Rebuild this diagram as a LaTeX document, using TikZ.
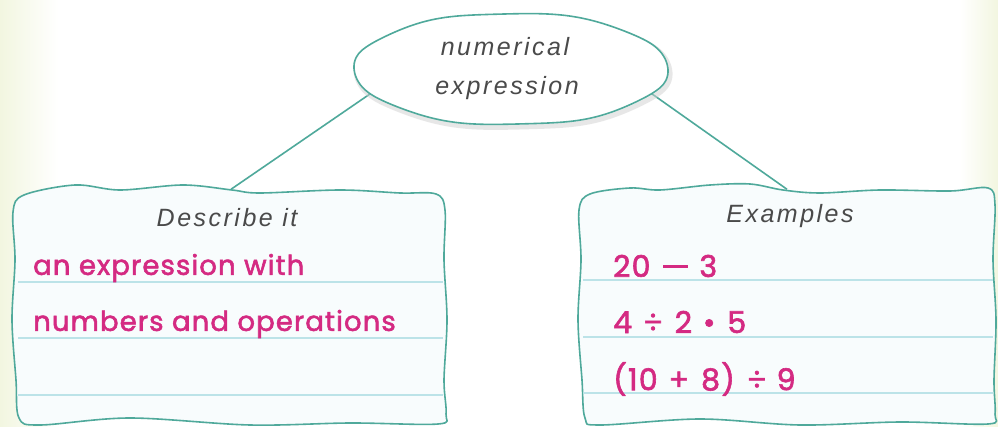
\documentclass[tikz,border=0pt]{standalone}
\usepackage{fontspec}
\setmainfont{Liberation Sans}
\newfontfamily\handfont[LetterSpace=10]{Liberation Sans}
\newfontfamily\magfont[FakeBold=2,LetterSpace=4]{Poppins}
\usetikzlibrary{shapes.geometric}
\definecolor{tealline}{HTML}{4FA99B}
\definecolor{rulecol}{HTML}{BCE3E8}
\definecolor{magc}{HTML}{D42A82}
\definecolor{handc}{HTML}{4A4A4A}
\definecolor{palec}{HTML}{F2F6E0}
\definecolor{boxfill}{HTML}{F8FCFD}
\newcommand{\mminus}{\rule[0.3em]{25pt}{0.1em}}
\begin{document}
\begin{tikzpicture}[x=1pt,y=-1pt,
  outl/.style={draw=tealline, line width=1.6pt, line join=round},
  conn/.style={draw=tealline, line width=1.6pt},
  ruleline/.style={draw=rulecol, line width=1.2pt},
  handtxt/.style={text=handc, font=\handfont\itshape\fontsize{25}{30}\selectfont, inner sep=0pt},
  magtxt/.style={text=magc, font=\magfont\fontsize{27.5}{32}\selectfont, inner sep=0pt, anchor=west},
  mathtxt/.style={text=magc, font=\magfont\fontsize{30}{34}\selectfont, inner sep=0pt, anchor=west},
  holder/.style={draw=none, inner sep=0pt}]
\useasboundingbox (0,0) rectangle (998,427);
\fill[white] (0,0) rectangle (998,427);
\shade[left color=palec, right color=white] (0,0) rectangle (58,427);
\shade[left color=white, right color=palec] (960,0) rectangle (998,427);

% layout holders
\node[holder, ellipse, minimum width=313pt, minimum height=113pt] (expr) at (511,69) {};
\node[holder, rectangle, minimum width=432pt, minimum height=237pt] (desc) at (231,308) {};
\node[holder, rectangle, minimum width=416pt, minimum height=237pt] (ex) at (787,308) {};

% connectors
\draw[conn] (expr.190) -- (desc.north);
\draw[conn] (expr.350) -- (ex.north);

% ellipse shadow + outline
\draw[black!18, line width=5pt, opacity=0.5] plot[domain=0:355, samples=72, smooth cycle]
  ({513+157*cos(\x)+0.8*sin(5*\x)}, {72+56*sin(\x)+1.0*sin(7*\x+30)});
\draw[outl, fill=white] plot[domain=0:355, samples=72, smooth cycle]
  ({511+157*cos(\x)+0.8*sin(5*\x)}, {69+56*sin(\x)+1.0*sin(7*\x+30)});

% left box
\draw[outl, fill=boxfill] plot[smooth cycle, tension=0.55] coordinates {
  (24,195) (75,185) (120,190) (183,185) (232,190) (260,193) (340,190) (400,193) (436,194)
  (445,210) (444,260) (447,320) (444,380) (446,414)
  (438,424) (350,423) (250,425) (130,418) (40,425)
  (19,418) (16,380) (12,320) (15,260) (13,212)};
% right box
\draw[outl, fill=boxfill] plot[smooth cycle, tension=0.55] coordinates {
  (590,194) (630,188) (660,190) (710,185) (750,184) (783,190) (820,193) (880,190) (950,191) (988,188)
  (995,205) (993,260) (996,320) (994,380) (995,414)
  (988,424) (900,422) (800,425) (700,419) (600,425)
  (585,418) (582,380) (578,320) (581,260) (579,210)};

% rules
\draw[ruleline] (18,282) -- (443,282);
\draw[ruleline] (18,338) -- (443,338);
\draw[ruleline] (18,395) -- (443,395);
\draw[ruleline] (583,280) -- (993,280);
\draw[ruleline] (583,337) -- (993,337);
\draw[ruleline] (583,393) -- (993,393);

% texts
\node[handtxt] (t1) at (505,47) {numerical};
\node[handtxt] (t2) at (507,88) {expression};
\node[handtxt] (h1) at (227,218) {Describe it};
\node[handtxt] (h2) at (790,216) {Examples};
\node[magtxt] (a1) at (33,268) {an expression with};
\node[magtxt] (a2) at (33,324) {numbers and operations};
\node[mathtxt] (b1) at (613,266) {20\hspace{13pt}\mminus\hspace{11pt}3};
\node[mathtxt] (b2) at (613,322) {4\hspace{11pt}÷\hspace{12pt}2\hspace{11pt}•\hspace{12pt}5};
\node[mathtxt] (b3) at (613,379) {(10\hspace{11pt}+\hspace{12pt}8)\hspace{12pt}÷\hspace{10pt}9};
\end{tikzpicture}
\end{document}
